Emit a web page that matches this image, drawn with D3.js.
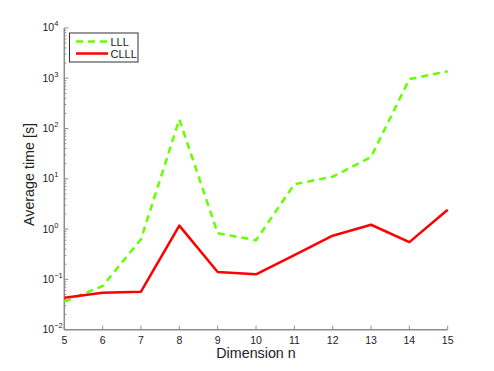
<!DOCTYPE html>
<html>
<head>
<meta charset="utf-8">
<script src="https://cdn.jsdelivr.net/npm/d3@7"></script>
<style>
  body { margin: 0; background: #fff; }
  text { font-family: "Liberation Sans", Arial, sans-serif; fill: #222; }
</style>
</head>
<body>
<svg id="chart" width="494" height="371"></svg>
<script>
// data
var dims = [5, 6, 7, 8, 9, 10, 11, 12, 13, 14, 15];
var lll  = [0.036, 0.074, 0.63, 152, 0.83, 0.6, 7.8, 11, 27, 960, 1370];
var clll = [0.043, 0.054, 0.057, 1.17, 0.14, 0.126, 0.305, 0.74, 1.22, 0.55, 2.43];
var yExps = [-2, -1, 0, 1, 2, 3, 4];
var seriesNames = ["LLL", "CLLL"];

var svg = d3.select("#chart");
// note: "top" is taken by window.top, so use other names
var plotL = 64.3, plotR = 447.7, plotT = 27.9, plotB = 329.7;

var x = d3.scaleLinear().domain([5, 15]).range([plotL, plotR]);
var y = d3.scaleLog().domain([1e-2, 1e4]).range([plotB, plotT]);

var axisColor = "#8c8c8c";

// minor ticks on the log axis
var minors = [];
yExps.slice(0, -1).forEach(function (e) {
    for (var k = 2; k <= 9; k++) minors.push(k * Math.pow(10, e));
});
svg.selectAll(".minor").data(minors).enter().append("line")
    .attr("x1", plotL).attr("x2", plotL + 2)
    .attr("y1", function (d) { return y(d); })
    .attr("y2", function (d) { return y(d); })
    .attr("stroke", axisColor).attr("stroke-width", 1);

// major y ticks
svg.selectAll(".ymaj").data(yExps).enter().append("line")
    .attr("x1", plotL).attr("x2", plotL + 4)
    .attr("y1", function (d) { return y(Math.pow(10, d)); })
    .attr("y2", function (d) { return y(Math.pow(10, d)); })
    .attr("stroke", axisColor).attr("stroke-width", 1);

var ylab = svg.selectAll(".ylab").data(yExps).enter().append("text")
    .attr("x", 42.5).attr("y", function (d) { return y(Math.pow(10, d)) + 3.5; })
    .attr("font-size", 10.5)
    .text("10");
ylab.append("tspan").attr("font-size", 7.5).attr("dy", -5)
    .text(function (d) { return d < 0 ? "\u2212" + (-d) : d; });

// x ticks
svg.selectAll(".xt").data(dims).enter().append("line")
    .attr("x1", function (d) { return x(d); })
    .attr("x2", function (d) { return x(d); })
    .attr("y1", plotB).attr("y2", plotB - 4)
    .attr("stroke", axisColor).attr("stroke-width", 1);
svg.selectAll(".xl").data(dims).enter().append("text")
    .attr("x", function (d) { return x(d); })
    .attr("y", 343.5)
    .attr("text-anchor", "middle").attr("font-size", 10.5)
    .text(function (d) { return d; });

// axis lines
svg.append("line").attr("x1", plotL).attr("x2", plotL)
    .attr("y1", plotT).attr("y2", plotB)
    .attr("stroke", axisColor).attr("stroke-width", 1.5);
svg.append("line").attr("x1", plotL).attr("x2", plotR)
    .attr("y1", plotB).attr("y2", plotB)
    .attr("stroke", axisColor).attr("stroke-width", 1.5);

// lines
var line = d3.line()
    .x(function (d, i) { return x(dims[i]); })
    .y(function (d) { return y(d); });

svg.append("path").datum(lll).attr("d", line)
    .attr("fill", "none").attr("stroke", "#66ff00")
    .attr("stroke-width", 2.5).attr("stroke-dasharray", "7,5");
svg.append("path").datum(clll).attr("d", line)
    .attr("fill", "none").attr("stroke", "#ff0000")
    .attr("stroke-width", 2.5).attr("stroke-linejoin", "round");

// axis titles
svg.append("text").attr("x", (plotL + plotR) / 2).attr("y", 357.7)
    .attr("text-anchor", "middle").attr("font-size", 14.3)
    .text("Dimension n");
svg.append("text")
    .attr("transform", "translate(33.5,174.5) rotate(-90)")
    .attr("text-anchor", "middle").attr("font-size", 14.3)
    .text("Average time [s]");

// legend
var lg = svg.append("g");
lg.append("rect").attr("x", 69.5).attr("y", 33).attr("width", 68.5).attr("height", 29)
    .attr("fill", "#fff").attr("stroke", "#333").attr("stroke-width", 1);
var legendItems = lg.selectAll(".li").data(seriesNames).enter().append("g")
    .attr("transform", function (d, i) { return "translate(0," + (41.5 + i * 12) + ")"; });
legendItems.append("line").attr("x1", 76).attr("x2", 108).attr("y1", 0).attr("y2", 0)
    .attr("stroke", function (d, i) { return i === 0 ? "#66ff00" : "#ff0000"; })
    .attr("stroke-width", 2.5)
    .attr("stroke-dasharray", function (d, i) { return i === 0 ? "7,5" : null; });
legendItems.append("text").attr("x", 110.5).attr("y", 4)
    .attr("font-size", 11).text(function (d) { return d; });
</script>
</body>
</html>
